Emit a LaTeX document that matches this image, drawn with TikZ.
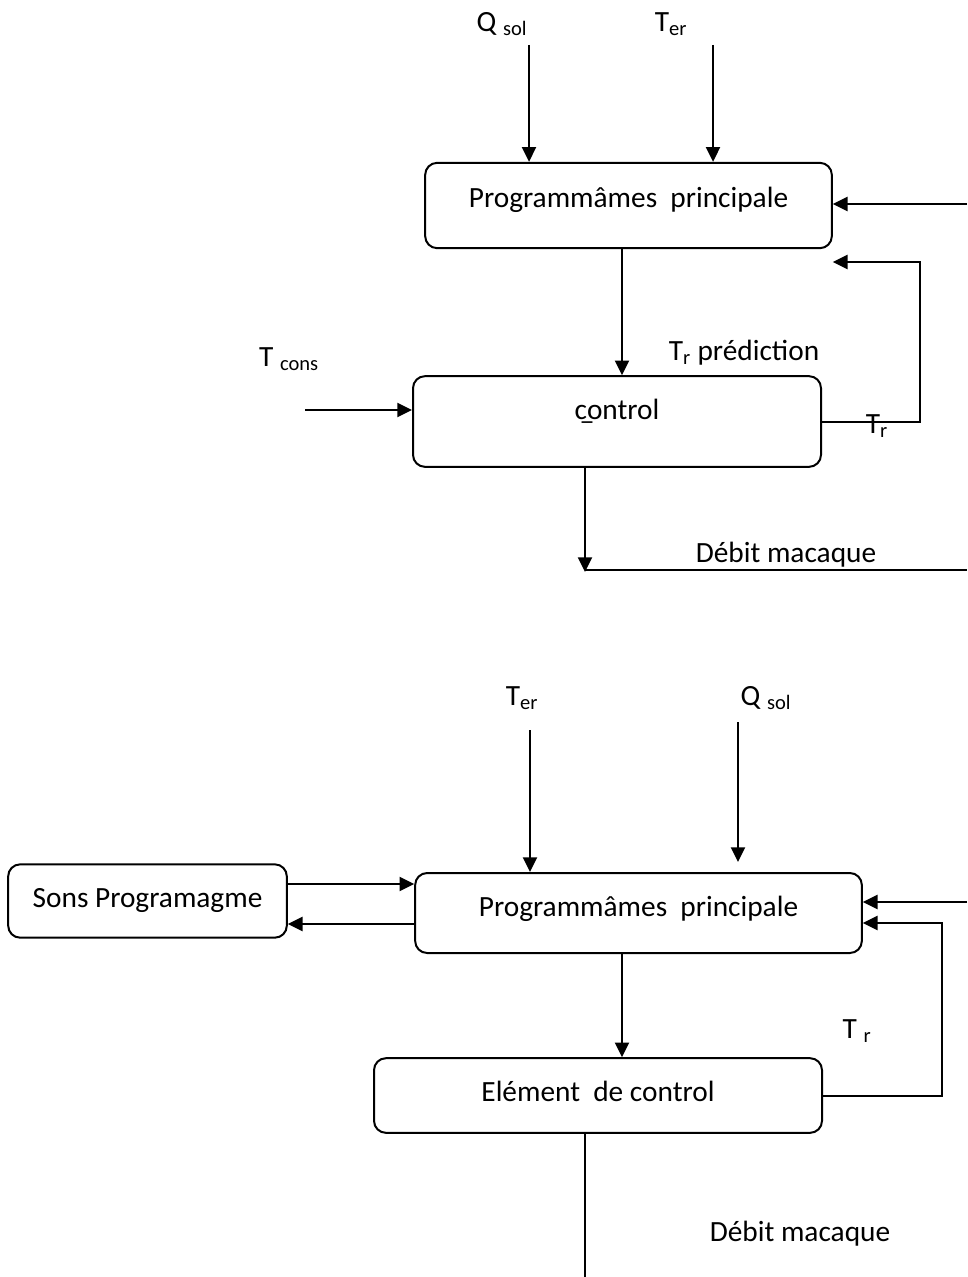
\documentclass[tikz,border=0pt]{standalone}
\usepackage{fontspec}
\setmainfont{Carlito}
\usetikzlibrary{positioning,arrows.meta}
\tikzstyle{block} = [rectangle, draw, line width=1.5pt, rounded corners=9pt, text height=15pt, text depth=12pt, font=\fontsize{22}{26}\selectfont]
\tikzstyle{big} = [block, minimum width=305pt, minimum height=64pt]
\tikzstyle{ctrl} = [block, minimum width=306pt, minimum height=68pt]
\tikzstyle{sons} = [block, minimum width=209pt, minimum height=55pt]
\tikzstyle{lbl} = [font=\fontsize{22}{26}\selectfont, inner sep=0pt]
\tikzstyle{wire} = [line width=1.5pt]
\tikzstyle{arr} = [wire, -{Triangle[length=11pt,width=10.5pt]}]

\begin{document}
\begin{tikzpicture}[x=0.75pt, y=-0.75pt]
      \useasboundingbox (0,0) rectangle (967,1277);

      %%%%%%%%%%%%%%%%%%%%%%%%%%%%%%%%%%%%%%%%%%%%%%%%%
      % FIRST SCHEME
      %%%%%%%%%%%%%%%%%%%%%%%%%%%%%%%%%%%%%%%%%%%%%%%%%
      \node[big] (PP1) at (628.5,205.5) {Programmâmes\ \ principale};
      \node[ctrl, text depth=18pt] (CTRL) at (617,421.5) {\b{c}ontrol};

      % inputs
      \node[lbl] (Qsol1) at (502,24) {Q \textsubscript{sol}};
      \node[lbl] (Ter1)  at (671,24) {T\textsubscript{er}};
      \node[lbl] (Tcons) at (289,359) {T \textsubscript{cons}};
      \node[lbl] (Tpred) at (744,353) {T\textsubscript{r} prédiction};
      \node[lbl] (Tr1)   at (877,426) {T\textsubscript{r}};
      \node[lbl] (Deb1)  at (786,555) {Débit macaque};

      \coordinate (q1) at (529,45);
      \coordinate (t1) at (713,45);
      \coordinate (c1) at (305,410);
      \coordinate (in1) at (967,204);
      \coordinate (fb1) at (920,262);
      \coordinate (v1) at (622,0);
      \coordinate (d1) at (585,570);
      \coordinate (out1) at (967,570);

      \draw[arr] (q1) -- (q1 |- PP1.north);
      \draw[arr] (t1) -- (t1 |- PP1.north);
      \draw[arr] (c1) -- (c1 -| CTRL.west);
      \draw[arr] (in1) -- (in1 -| PP1.east);
      \draw[arr] (CTRL.east) -| (fb1) -- (fb1 -| PP1.east);
      \draw[arr] (PP1.south -| v1) -- (CTRL.north -| v1);
      \draw[arr] (CTRL.south -| d1) -- ([yshift=-1.5pt]d1);
      \draw[wire] (d1) -- (out1);

      %%%%%%%%%%%%%%%%%%%%%%%%%%%%%%%%%%%%%%%%%%%%%%%%%
      % SECOND SCHEME
      %%%%%%%%%%%%%%%%%%%%%%%%%%%%%%%%%%%%%%%%%%%%%%%%%
      \node[big, minimum width=335pt, minimum height=60pt, text depth=10.5pt] (PP2) at (638.5,913) {Programmâmes\ \ principale};
      \node[sons, text depth=6pt] (SONS) at (147.5,901) {Sons Programagme};
      \node[block, minimum width=336pt, minimum height=56pt, text depth=6pt] (ELEM) at (598,1095.5) {Elément\ \ de control};

      \node[lbl] (Ter2)  at (522,698) {T\textsubscript{er}};
      \node[lbl] (Qsol2) at (766,698) {Q \textsubscript{sol}};
      \node[lbl] (Tr2)   at (857,1031) {T \textsubscript{r}};
      \node[lbl] (Deb2)  at (800,1234) {Débit macaque};

      \coordinate (t2) at (530,730);
      \coordinate (q2) at (738,722);
      \coordinate (qe2) at (738,862);
      \coordinate (s1) at (0,884);
      \coordinate (s2) at (0,924);
      \coordinate (in2) at (967,902);
      \coordinate (fb2) at (942,923);
      \coordinate (v2) at (622,0);
      \coordinate (d2) at (585,0);
      \coordinate (out2) at (585,1277);

      \draw[arr] (t2) -- (t2 |- PP2.north);
      \draw[arr] (q2) -- (qe2);
      \draw[arr] (SONS.east |- s1) -- (PP2.west |- s1);
      \draw[arr] (PP2.west |- s2) -- (SONS.east |- s2);
      \draw[arr] (in2) -- (in2 -| PP2.east);
      \draw[arr] (ELEM.east) -| (fb2) -- (fb2 -| PP2.east);
      \draw[arr] (PP2.south -| v2) -- (ELEM.north -| v2);
      \draw[wire] (ELEM.south -| d2) -- (out2);
\end{tikzpicture}
\end{document}
